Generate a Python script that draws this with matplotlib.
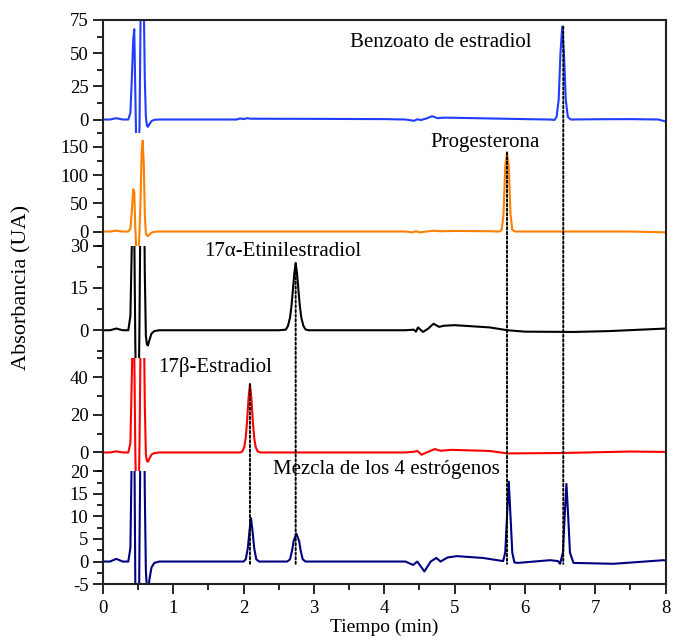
import matplotlib
matplotlib.use("Agg")
import matplotlib.pyplot as plt
from matplotlib.patches import ConnectionPatch
from matplotlib.ticker import MultipleLocator

plt.rcParams["font.family"] = ["Liberation Serif", "DejaVu Serif"]
plt.rcParams["axes.unicode_minus"] = False

# injection region, shared time points for every trace
t_start = [0.00, 0.10, 0.19, 0.28, 0.36, 0.39, 0.41, 0.43, 0.445, 0.46, 0.475,
           0.49, 0.505, 0.52, 0.535, 0.55, 0.565, 0.58, 0.595, 0.61, 0.625,
           0.64, 0.66, 0.69, 0.73, 0.80]

# Benzoato de estradiol (blue)
benz_t = t_start + [1.9, 1.95, 2.0, 2.05, 2.1, 3.0, 4.0, 4.3, 4.38, 4.42, 4.47, 4.52,
                    4.6, 4.68, 4.76, 4.85, 5.0, 5.5, 6.0, 6.35, 6.42, 6.45, 6.48,
                    6.505, 6.53, 6.555, 6.58, 6.61, 6.65, 7.0, 7.5, 7.9, 8.0]
benz_y = [0, 0, 1.0, 0, 0, 5, 30, 60, 68, 20, -25, -35, -25, -5, 80, 110, 115, 90,
          30, 2, -4.5, -5.5, -3.5, -1.2, -0.2, 0] + \
         [0, 0.8, 0.3, 1.0, 0.6, 0.5, 0.3, 0, -0.6, -1.0, 0.2, -0.4,
          0.8, 2.5, 1.0, 1.4, 1.3, 0.8, 0.3, 0, -0.3, 2, 15,
          50, 70, 50, 15, 2, 0, 0.2, 0.3, 0, -1.5]

# Progesterona (orange)
prog_t = t_start + [2.0, 4.0, 4.3, 4.4, 4.45, 4.5, 4.6, 4.7, 4.8, 5.0, 5.5, 5.64,
                    5.67, 5.695, 5.72, 5.745, 5.77, 5.795, 5.82, 5.86, 6.5, 7.5, 8.0]
prog_y = [0, 0, 1.5, 0, 0, 5, 35, 75, 70, 5, -35, -45, -35, 0, 60, 140, 161, 120,
          30, -3, -7, -8, -6, -2, -0.5, 0] + \
         [0, 0, 0, -1.5, 0.5, -1.5, 0, 1.5, 0.5, 1, 0.5, 0,
          3, 30, 115, 140, 115, 30, 3, 0, 0, 0, -1.5]

# 17a-Etinilestradiol (black)
etin_t = t_start + [2.5, 2.6, 2.63, 2.66, 2.68, 2.70, 2.72, 2.74, 2.76, 2.78, 2.80,
                    2.82, 2.85, 2.88, 2.92, 4.3, 4.42, 4.45, 4.48, 4.55, 4.62, 4.7,
                    4.78, 4.85, 5.0, 5.5, 5.75, 6.0, 6.7, 7.2, 8.0]
etin_y = [0, 0, 0.6, 0, 0, 5, 30, 60, 35, -5, -30, -40, -30, 5, 50, 80, 85, 60,
          20, -2, -5, -5.4, -3.5, -1.2, -0.3, 0] + \
         [0, 0.2, 1.5, 4.5, 8.5, 14, 20, 23.8, 20, 14, 8.5,
          4.5, 1.5, 0.3, 0, 0, 0.2, -0.5, 1.0, -0.6, 0.5, 2.3,
          1.2, 1.6, 1.8, 1.0, 0, -0.5, -0.6, -0.3, 0.6]

# 17b-Estradiol (red)
estr_t = t_start + [1.95, 1.98, 2.01, 2.03, 2.05, 2.07, 2.09, 2.11, 2.13, 2.15, 2.17,
                    2.20, 2.25, 4.3, 4.42, 4.47, 4.53, 4.6, 4.72, 4.8, 4.95, 5.5,
                    5.75, 6.5, 7.5, 8.0]
estr_y = [0, 0, 0.6, 0, 0, 5, 40, 75, 55, 0, -30, -40, -30, 5, 60, 95, 100, 75,
          25, -1, -4.5, -4.9, -3.3, -1.1, -0.3, 0] + \
         [0, 0.5, 3, 8, 17, 29, 36.3, 29, 17, 8, 3,
          0.5, 0, 0, 0.4, 0.8, -1.2, 0, 1.8, 0.9, 1.4, 0.8,
          -0.5, -0.3, 0.5, 0.3]

# Mezcla de los 4 estrogenos (navy)
mezc_t = t_start + [2.0, 2.03, 2.06, 2.085, 2.105, 2.125, 2.15, 2.18, 2.22, 2.62,
                    2.66, 2.69, 2.71, 2.75, 2.79, 2.81, 2.84, 2.88, 4.3, 4.41, 4.47,
                    4.57, 4.66, 4.74, 4.80, 4.9, 5.03, 5.4, 5.69, 5.72, 5.745, 5.77,
                    5.795, 5.82, 5.85, 5.9, 6.36, 6.47, 6.5, 6.54, 6.565, 6.59,
                    6.615, 6.64, 6.69, 7.26, 7.97, 8.0]
mezc_y = [0, 0, 0.6, 0, 0, 3, 25, 45, 30, -5, -25, -30, -25, 5, 30, 45, 50, 40,
          15, -2, -6, -7, -4, -1.3, -0.3, 0] + \
         [0, 0.5, 3, 7, 9.6, 7, 3, 0.5, 0, 0,
          0.5, 2.5, 4.5, 6.2, 4.5, 2.5, 0.5, 0, 0, -0.75, 0,
          -2.2, 0, 0.8, 0, 0.9, 1.2, 0.8, 0.1, 2, 10, 17.7,
          10, 2, -0.2, -0.3, 0.3, 0.1, -0.5, 2, 10, 17.2,
          10, 2, -0.3, -0.5, 0.3, 0.2]

traces = [
    (benz_t, benz_y, "#1f3cff", (-10, 75), 25),
    (prog_t, prog_y, "#ff7f00", (-25, 175), 50),
    (etin_t, etin_y, "black", (-10, 30), 15),
    (estr_t, estr_y, "#ff0000", (-10, 50), 20),
    (mezc_t, mezc_y, "#000080", (-5, 20), 5),
]

labels = [
    ("Benzoato de estradiol", 4.81, 57.8),
    ("Progesterona", 5.44, 157.5),
    ("17α-Etinilestradiol", 2.56, 27.9),
    ("17β-Estradiol", 1.59, 45.3),
    ("Mezcla de los 4 estrógenos", 4.03, 20.3),
]

# retention time and height of each marked peak, and the panel it starts from
peak_marks = [(2.09, 36.3, 3), (2.74, 23.8, 2), (5.745, 140, 1), (6.545, 70, 0)]

fig, axes = plt.subplots(5, 1, sharex=True, figsize=(6.73, 6.44), dpi=100,
                         gridspec_kw={"hspace": 0})
fig.subplots_adjust(left=0.153, right=0.989, top=0.969, bottom=0.093)

for i, (ax, (tx, ty, color, ylim, step)) in enumerate(zip(axes, traces)):
    ax.plot(tx, ty, color=color, lw=1.5)
    ax.set_ylim(*ylim)
    ax.set_xlim(0, 8)
    ax.yaxis.set_major_locator(MultipleLocator(step))
    ax.yaxis.set_minor_locator(MultipleLocator(step / 2))
    ax.tick_params(axis="y", which="major", direction="out", length=7.5, width=1.2,
                   labelsize=13.5, pad=3)
    ax.tick_params(axis="y", which="minor", direction="out", length=4, width=1.2)
    for side in ["left", "right", "top", "bottom"]:
        ax.spines[side].set_linewidth(1.5)
        ax.spines[side].set_color("#222222")
    if i > 0:
        ax.spines["top"].set_visible(False)
    if i < 4:
        ax.spines["bottom"].set_visible(False)
        ax.tick_params(axis="x", which="both", bottom=False)
    text, lx, ly = labels[i]
    ax.text(lx, ly, text, ha="center", va="center", fontsize=15, clip_on=False)

ax = axes[4]
ax.xaxis.set_major_locator(MultipleLocator(1))
ax.xaxis.set_minor_locator(MultipleLocator(0.5))
ax.tick_params(axis="x", which="major", direction="out", length=7.5, width=1.2,
               labelsize=13.5, pad=4)
ax.tick_params(axis="x", which="minor", direction="out", length=4, width=1.2)
ax.set_xlabel("Tiempo (min)", fontsize=14, labelpad=1)

# dotted guides from each pure-standard peak down to the mixture baseline
for x, h, k in peak_marks:
    con = ConnectionPatch(xyA=(x, h), coordsA=axes[k].transData,
                          xyB=(x, -0.5), coordsB=axes[4].transData,
                          linestyle=(0, (1.2, 1.2)), color="black", lw=1.4)
    fig.add_artist(con)

fig.text(0.033, 0.554, "Absorbancia (UA)", rotation=90, ha="center", va="center",
         fontsize=16)

plt.savefig("out.png", dpi=100)
